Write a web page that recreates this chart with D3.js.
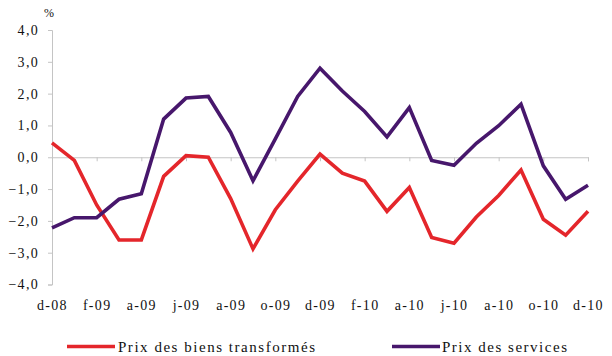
<!DOCTYPE html>
<html><head><meta charset="utf-8">
<script src="https://cdn.jsdelivr.net/npm/d3@7"></script>
<style>
html,body{margin:0;padding:0;background:#fff;}
svg{display:block;font-family:"Liberation Serif","Times New Roman",serif;}
</style></head>
<body><svg id="c" width="612" height="356"></svg>
<script>
const months = ["d-08","j-09","f-09","m-09","a-09","m-09","j-09","j-09","a-09","s-09","o-09","n-09","d-09",
                "j-10","f-10","m-10","a-10","m-10","j-10","j-10","a-10","s-10","o-10","n-10","d-10"];
const biensTransformes = [0.45,-0.1,-1.5,-2.6,-2.6,-0.6,0.05,0.0,-1.3,-2.88,-1.65,-0.75,0.1,
                          -0.5,-0.75,-1.7,-0.95,-2.52,-2.7,-1.88,-1.2,-0.4,-1.95,-2.45,-1.7];
const services = [-2.22,-1.9,-1.9,-1.32,-1.15,1.2,1.86,1.91,0.78,-0.74,0.58,1.91,2.8,
                  2.08,1.44,0.64,1.56,-0.1,-0.25,0.44,0.99,1.67,-0.27,-1.32,-0.88];
const yTicks = [-4,-3,-2,-1,0,1,2,3,4];
const seriesNames = ["Prix des biens transformés","Prix des services"];
const colors = ["#e4262b","#47176c"];

const svg = d3.select("#c");
const idx = d3.range(months.length);
const x = d3.scalePoint().domain(idx).range([52, 588]);
const y = d3.scaleLinear().domain([-4,4]).range([284.5, 30]);
const fmt = d => d3.format(".1f")(d).replace(".", ",");
const grey = "#c4c4c4";

// y axis
const ya = svg.append("g").attr("transform","translate(52,0)")
  .call(d3.axisLeft(y).tickValues(yTicks).tickFormat(fmt).tickSizeOuter(0).tickSize(4).tickPadding(9));
ya.select(".domain").attr("stroke",grey);
ya.selectAll(".tick line").attr("stroke",grey);
ya.selectAll(".tick text").attr("fill","#111").style("font-size","14px")
  .style("font-family","Liberation Serif, serif").attr("letter-spacing","1.3px");

// zero axis with ticks
const xa = svg.append("g").attr("transform",`translate(0,${y(0)})`)
  .call(d3.axisBottom(x).tickValues(idx.filter(i=>i%2===0)).tickFormat("").tickSizeOuter(0).tickSize(4));
xa.select(".domain").attr("stroke",grey);
xa.selectAll(".tick line").attr("stroke",grey);

// x labels at bottom
const xl = svg.append("g").attr("transform","translate(0,300)")
  .call(d3.axisBottom(x).tickValues(idx.filter(i=>i%2===0)).tickFormat(i=>months[i]).tickSize(0).tickPadding(0));
xl.select(".domain").remove();
xl.selectAll(".tick text").attr("fill","#111").style("font-size","14px")
  .style("font-family","Liberation Serif, serif").attr("letter-spacing","1.3px").attr("dy","0.71em");

svg.append("text").attr("x",49).attr("y",17).attr("text-anchor","middle")
  .style("font-size","12px").attr("fill","#111").text("%");

const line = d3.line().x((d,i)=>x(i)).y(d=>y(d));
[biensTransformes, services].forEach((s,k)=>{
  svg.append("path").datum(s).attr("d",line).attr("fill","none")
    .attr("stroke",colors[k]).attr("stroke-width",3.6).attr("stroke-linejoin","miter");
});

// legend
const leg = [{x0:67,x1:115,tx:118,w:197},{x0:392,x1:440,tx:442,w:125}];
leg.forEach((l,k)=>{
  svg.append("line").attr("x1",l.x0).attr("x2",l.x1).attr("y1",346.5).attr("y2",346.5)
    .attr("stroke",colors[k]).attr("stroke-width",3.6);
  svg.append("text").attr("x",l.tx).attr("y",352).style("font-size","15px").attr("fill","#111")
    .attr("textLength",l.w).attr("lengthAdjust","spacing").text(seriesNames[k]);
});
</script></body></html>
